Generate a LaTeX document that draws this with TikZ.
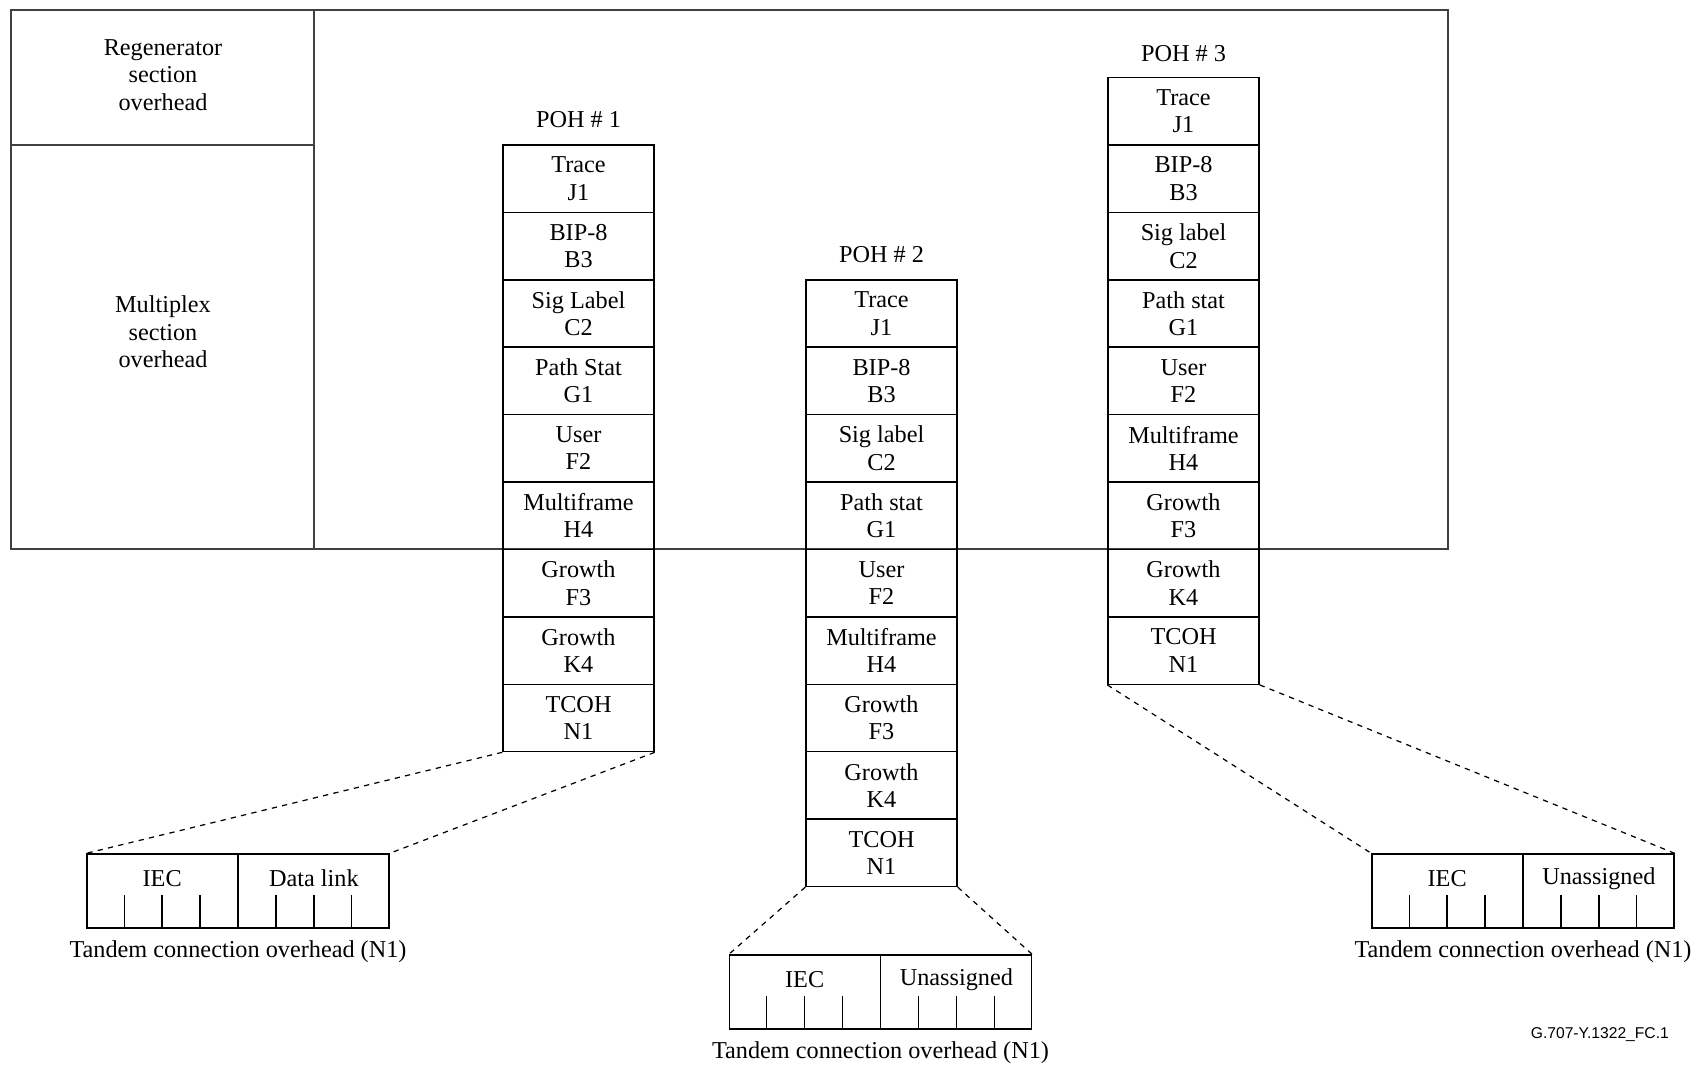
\documentclass[tikz,border=0pt]{standalone}
\usepackage{fontspec}
\setmainfont{Liberation Serif}
\newfontfamily\figidfont{Liberation Sans}
\usetikzlibrary{calc}
\newcommand\pohfont{\fontsize{13.8}{15.6}\selectfont}
\tikzset{
  cell/.style={draw, line width=0.8pt, minimum width=3.02cm, minimum height=1.348cm, inner sep=0pt, align=center},
  tcbox/.style={draw, line width=0.8pt, minimum width=6.04cm, minimum height=1.48cm, inner sep=0pt},
  zoomline/.style={dashed, line width=0.7pt},
}

\begin{document}
\begin{tikzpicture}[x=0.02cm, y=-0.02cm, font=\pohfont]
  \useasboundingbox (0,0) rectangle (1699,1065);
  \draw[line width=0.8pt, black!75] (11,10) rectangle (1448,549);
  \draw[line width=0.8pt, black!75] (314,10) -- (314,549);
  \draw[line width=0.8pt, black!75] (11,145) -- (314,145);
  \node[align=center] (rso) at (163,75) {Regenerator\\section\\overhead};
  \node[align=center] (mso) at (163,332) {Multiplex\\section\\overhead};

  \foreach \txt [count=\i] in {Trace\\J1, BIP-8\\B3, Sig Label\\C2, Path Stat\\G1, User\\F2, Multiframe\\H4, Growth\\F3, Growth\\K4, TCOH\\N1}
    \node[cell] (p1c\i) at (578.5, {145+(\i-0.5)*67.4}) {\txt};
  \foreach \txt [count=\i] in {Trace\\J1, BIP-8\\B3, Sig label\\C2, Path stat\\G1, User\\F2, Multiframe\\H4, Growth\\F3, Growth\\K4, TCOH\\N1}
    \node[cell] (p2c\i) at (881.5, {279.8+(\i-0.5)*67.4}) {\txt};
  \foreach \txt [count=\i] in {Trace\\J1, BIP-8\\B3, Sig label\\C2, Path stat\\G1, User\\F2, Multiframe\\H4, Growth\\F3, Growth\\K4, TCOH\\N1}
    \node[cell] (p3c\i) at (1183.5, {77.6+(\i-0.5)*67.4}) {\txt};
  \node (poh1) at (578.5,120) {POH \# 1};
  \node (poh2) at (881.5,255) {POH \# 2};
  \node (poh3) at (1183.5,54) {POH \# 3};

  \node[tcbox] (tc1) at (238,891) {};
  \node[tcbox] (tc2) at (880.5,992) {};
  \node[tcbox] (tc3) at (1523,891) {};
  \foreach \b in {tc1,tc2,tc3} {
    \draw[line width=0.8pt] (\b.north) -- (\b.south);
    \foreach \k in {1,2,3,5,6,7}
      \draw[line width=0.8pt] ($(\b.south west)!\k/8!(\b.south east)$) -- ++(0,-34);
    \node (\b-cap) at ($(\b.south)+(0,23)$) {Tandem connection overhead (N1)};
    \node (\b-iec) at ($(\b.north west)!0.25!(\b.north east)+(0,25)$) {IEC};
  }
  \node (tc1-dl) at ($(tc1.north west)!0.75!(tc1.north east)+(0,25)$) {Data link};
  \node (tc2-un) at ($(tc2.north west)!0.75!(tc2.north east)+(0,25)$) {Unassigned};
  \node (tc3-un) at ($(tc3.north west)!0.75!(tc3.north east)+(0,25)$) {Unassigned};

  \draw[zoomline] (p1c9.south west) -- (tc1.north west);
  \draw[zoomline] (p1c9.south east) -- (tc1.north east);
  \draw[zoomline] (p2c9.south west) -- (tc2.north west);
  \draw[zoomline] (p2c9.south east) -- (tc2.north east);
  \draw[zoomline] (p3c9.south west) -- (tc3.north west);
  \draw[zoomline] (p3c9.south east) -- (tc3.north east);

  \node[anchor=east, font=\figidfont\fontsize{8.9}{10}\selectfont] (figid) at (1675,1035) {G.707-Y.1322\_FC.1};
\end{tikzpicture}
\end{document}
